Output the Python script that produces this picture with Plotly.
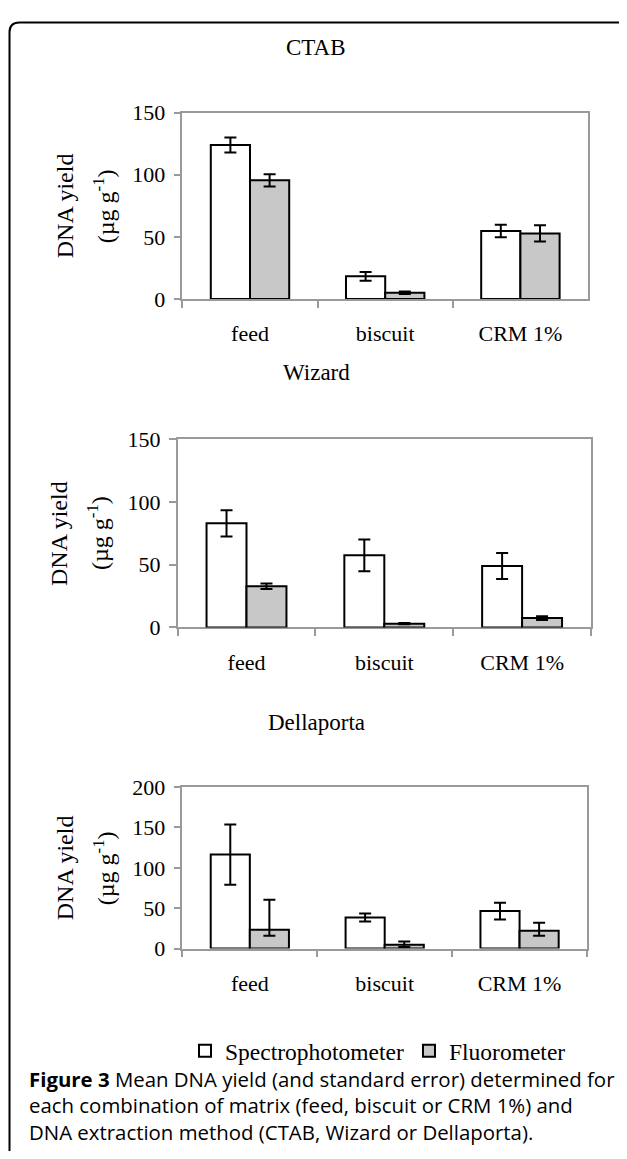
import plotly.graph_objects as go

# page is 627x1159; the body keeps its default 8px margin, so the figure is 16px smaller
PAGE_W, PAGE_H = 627, 1159
OFF = 8
W, H = PAGE_W - 2 * OFF, PAGE_H - 2 * OFF

categories = ["feed", "biscuit", "CRM 1%"]
methods = ["CTAB", "Wizard", "Dellaporta"]
series_names = ["Spectrophotometer", "Fluorometer"]

# CTAB
ctab_spectro = [124, 18.3, 54.8]
ctab_spectro_err = [6, 3.5, 5]
ctab_fluoro = [95.5, 5, 52.8]
ctab_fluoro_err = [5, 1, 6.5]

# Wizard
wizard_spectro = [83, 57.5, 49]
wizard_spectro_err = [10.5, 12.7, 10.4]
wizard_fluoro = [32.8, 3, 7.5]
wizard_fluoro_err = [2.2, 0.5, 1.5]

# Dellaporta
della_spectro = [116.4, 38.5, 46.4]
della_spectro_err = [37.3, 5, 10.5]
della_fluoro = [23.2, 4.8, 22.2]
della_fluoro_err_plus = [37.4, 4, 9.7]
della_fluoro_err_minus = [7.4, 3, 6.5]

y_ranges = [[0, 150], [0, 150], [0, 200]]
y_ticks = [[0, 50, 100, 150], [0, 50, 100, 150], [0, 50, 100, 150, 200]]

caption_lines = [
    "<b>Figure 3</b> Mean DNA yield (and standard error) determined for",
    "each combination of matrix (feed, biscuit or CRM 1%) and",
    "DNA extraction method (CTAB, Wizard or Dellaporta).",
]


def fx(p):
    return (p - OFF) / W


def fy(p):
    return 1 - (p - OFF) / H


# plot-area pixel boxes in page coordinates: (left, right, top, bottom)
boxes = [
    (182.4, 588.0, 102.7, 293.3),
    (177.6, 591.0, 436.7, 629.0),
    (182.4, 587.0, 792.3, 957.3),
]
title_y = [36, 368, 726]

SERIF = "Liberation Serif, Times New Roman, serif"
AX_GRAY = "#9a9a9a"

data_sets = [
    (ctab_spectro, ctab_spectro_err, ctab_spectro_err, ctab_fluoro, ctab_fluoro_err, ctab_fluoro_err),
    (wizard_spectro, wizard_spectro_err, wizard_spectro_err, wizard_fluoro, wizard_fluoro_err, wizard_fluoro_err),
    (della_spectro, della_spectro_err, della_spectro_err, della_fluoro, della_fluoro_err_plus, della_fluoro_err_minus),
]

fig = go.Figure()
fills = ["white", "#c8c8c8"]

for i, ds in enumerate(data_sets):
    xa = "x" if i == 0 else f"x{i+1}"
    ya = "y" if i == 0 else f"y{i+1}"
    sp, spp, spm, fl, flp, flm = ds
    for k, (vals, ep, em) in enumerate([(sp, spp, spm), (fl, flp, flm)]):
        fig.add_trace(go.Bar(
            x=categories, y=vals, name=series_names[k],
            xaxis=xa, yaxis=ya,
            marker=dict(color=fills[k], line=dict(color="black", width=2)),
            error_y=dict(type="data", array=ep, arrayminus=em, symmetric=False,
                         color="black", thickness=2, width=6),
            showlegend=(i == 0), legendgroup=series_names[k],
            cliponaxis=False,
        ))

layout = dict(
    width=W, height=H,
    margin=dict(l=0, r=0, t=0, b=0),
    paper_bgcolor="white", plot_bgcolor="white",
    barmode="group", bargap=0.42, bargroupgap=0,
    font=dict(family=SERIF, color="black", size=22),
    legend=dict(orientation="h", x=fx(185), xanchor="left", y=fy(1062), yanchor="middle",
                font=dict(family=SERIF, size=23.5, color="black"),
                bgcolor="rgba(0,0,0,0)", itemwidth=30, tracegroupgap=0),
)

annotations = []
for i in range(3):
    l, r, t, b = boxes[i]
    xk = "xaxis" if i == 0 else f"xaxis{i+1}"
    yk = "yaxis" if i == 0 else f"yaxis{i+1}"
    ya = "y" if i == 0 else f"y{i+1}"
    xa = "x" if i == 0 else f"x{i+1}"
    layout[xk] = dict(
        domain=[fx(l), fx(r)], anchor=ya, type="category",
        tickson="boundaries", ticks="outside", ticklen=7, tickcolor=AX_GRAY, tickwidth=1.5,
        showline=True, linecolor=AX_GRAY, linewidth=1.5, mirror=True,
        showgrid=False, layer="below traces",
        tickfont=dict(family=SERIF, size=22, color="black"),
        ticklabelstandoff=14,
    )
    layout[yk] = dict(
        domain=[fy(b), fy(t)], anchor=xa, range=y_ranges[i],
        tickvals=y_ticks[i], ticks="outside", ticklen=7, tickcolor=AX_GRAY, tickwidth=1.5,
        showline=True, linecolor=AX_GRAY, linewidth=1.5, mirror=True,
        showgrid=False, zeroline=False, layer="below traces",
        tickfont=dict(family=SERIF, size=22, color="black"),
        ticklabelstandoff=4,
    )
    annotations.append(dict(text=methods[i], x=fx(316), y=fy(title_y[i]), xref="paper", yref="paper",
                            xanchor="center", yanchor="middle", showarrow=False,
                            font=dict(family=SERIF, size=23, color="black")))
    cy = (t + b) / 2
    annotations.append(dict(text="DNA yield", x=fx(l - 118), y=fy(cy), xref="paper", yref="paper",
                            xanchor="center", yanchor="middle", showarrow=False, textangle=-90,
                            font=dict(family=SERIF, size=24, color="black")))
    annotations.append(dict(text="(µg g<sup>-1</sup>)", x=fx(l - 79), y=fy(cy), xref="paper", yref="paper",
                            xanchor="center", yanchor="middle", showarrow=False, textangle=-90,
                            font=dict(family=SERIF, size=24, color="black")))

cap_base = [1101, 1128, 1155]
for j, line in enumerate(caption_lines):
    annotations.append(dict(text=line, x=fx(27), y=fy(cap_base[j] + 6), xref="paper", yref="paper",
                            xanchor="left", yanchor="bottom", showarrow=False, align="left",
                            font=dict(family="Open Sans, sans-serif", size=20.4, color="black")))

layout["annotations"] = annotations

# outer rounded frame (only its top and left edges fall inside the picture)
r = 10
fl_x, fl_y = 9.5, 10.5
path = (f"M {fx(fl_x)},{fy(1300)} L {fx(fl_x)},{fy(fl_y + r)} "
        f"Q {fx(fl_x)},{fy(fl_y)} {fx(fl_x + r)},{fy(fl_y)} L {fx(800)},{fy(fl_y)}")
layout["shapes"] = [
    dict(type="path", path=path, xref="paper", yref="paper", line=dict(color="black", width=2)),
]

fig.update_layout(**layout)

fig.write_html("out.html", config={"displayModeBar": False})
